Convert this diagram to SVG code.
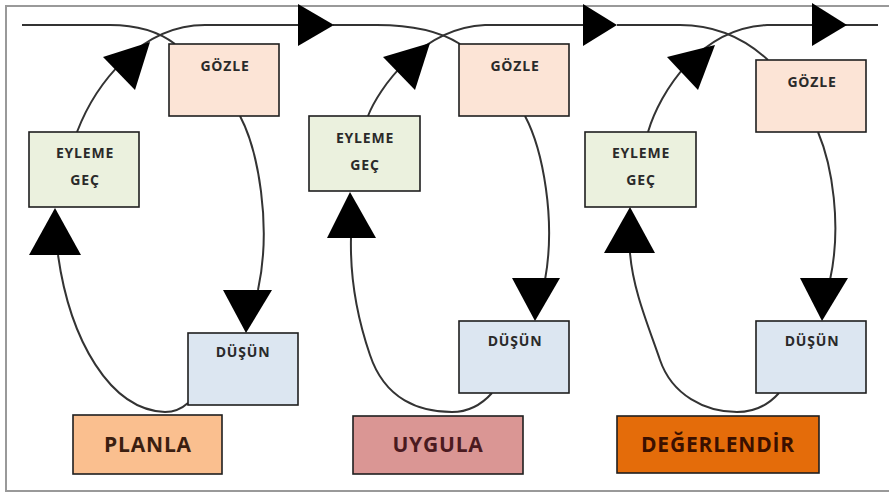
<svg xmlns="http://www.w3.org/2000/svg" width="889" height="494" viewBox="0 0 889 494">
<style>
.box{stroke:#1f1f1f;stroke-width:1.6}
.g{fill:#fce4d6}
.e{fill:#ebf1de}
.d{fill:#dce6f1}
.t{font-family:"Open Sans","Noto Sans",sans-serif;font-weight:bold;font-size:14px;letter-spacing:0.8px;fill:#2a2a2a;text-anchor:middle}
.big{font-family:"Open Sans","Noto Sans",sans-serif;font-weight:bold;font-size:21px;letter-spacing:0.8px;text-anchor:middle}
.c{fill:none;stroke:#333;stroke-width:2}
.ah{fill:#000}
</style>
<rect x="0" y="0" width="889" height="494" fill="#fff"/>
<rect x="6" y="6" width="900" height="485" fill="none" stroke="#999" stroke-width="2"/>

<g id="connectors">
  <path class="c" d="M22,25 L110,25 Q150,25 175,44"/>
  <path class="c" d="M77,132 C95,85 140,25 205,25 L298,25"/>
  <path class="c" d="M240,116 C258,150 272,225 258,290"/>
  <path class="c" d="M188,403 Q178,412 165,412 C110,410 70,340 58,255"/>

  <path class="c" d="M333,25 L377,25 Q430,25 460,44"/>
  <path class="c" d="M368,116 C378,90 420,28 485,25 L583,25"/>
  <path class="c" d="M525,116 C543,150 556,220 545,280"/>
  <path class="c" d="M492,393 Q475,412 452,412 C420,412 385,400 370,355 C358,320 350,280 351,238"/>

  <path class="c" d="M617,25 L680,25 Q730,25 768,60"/>
  <path class="c" d="M648,132 C660,92 700,28 767,25 L878,25"/>
  <path class="c" d="M818,132 C832,165 842,225 830,280"/>
  <path class="c" d="M779,393 Q762,412 737,412 C705,412 672,395 660,360 C648,325 633,290 630,253"/>

  <polygon class="ah" points="298,4 298,46 334,25"/>
  <polygon class="ah" points="583,4 583,46 617,25"/>
  <polygon class="ah" points="812,3 812,46 847,25"/>

  <polygon class="ah" points="103,57 150,42 135,90"/>
  <polygon class="ah" points="223,290 272,290 246,333"/>
  <polygon class="ah" points="29,255 81,255 55,208"/>

  <polygon class="ah" points="383,57 430,43 415,90"/>
  <polygon class="ah" points="512,278 560,278 535,321"/>
  <polygon class="ah" points="327,238 376,238 350,192"/>

  <polygon class="ah" points="667,57 715,45 698,90"/>
  <polygon class="ah" points="800,278 848,278 822,321"/>
  <polygon class="ah" points="604,253 655,253 630,207"/>
</g>

<g id="gozle1"><rect class="box g" x="169" y="44" width="110" height="72"/><text class="t" x="225" y="71">GÖZLE</text></g>
<g id="eyleme1"><rect class="box e" x="29" y="132" width="110" height="75"/><text class="t" x="85" y="158">EYLEME</text><text class="t" x="85" y="185">GEÇ</text></g>
<g id="dusun1"><rect class="box d" x="188" y="333" width="110" height="72"/><text class="t" x="243" y="357">DÜŞÜN</text></g>
<g id="planla"><rect class="box" x="73" y="415" width="149" height="59" fill="#fabf8f"/><text class="big" x="148" y="452" fill="#3b1e10">PLANLA</text></g>

<g id="gozle2"><rect class="box g" x="459" y="44" width="110" height="72"/><text class="t" x="515" y="71">GÖZLE</text></g>
<g id="eyleme2"><rect class="box e" x="309" y="116" width="111" height="75"/><text class="t" x="365" y="143">EYLEME</text><text class="t" x="365" y="170">GEÇ</text></g>
<g id="dusun2"><rect class="box d" x="459" y="321" width="110" height="72"/><text class="t" x="515" y="346">DÜŞÜN</text></g>
<g id="uygula"><rect class="box" x="353" y="416" width="170" height="58" fill="#da9694"/><text class="big" x="438" y="452" fill="#4a1a20">UYGULA</text></g>

<g id="gozle3"><rect class="box g" x="756" y="60" width="110" height="72"/><text class="t" x="812" y="87">GÖZLE</text></g>
<g id="eyleme3"><rect class="box e" x="585" y="132" width="111" height="75"/><text class="t" x="641" y="158">EYLEME</text><text class="t" x="641" y="185">GEÇ</text></g>
<g id="dusun3"><rect class="box d" x="756" y="321" width="110" height="72"/><text class="t" x="812" y="346">DÜŞÜN</text></g>
<g id="degerlendir"><rect class="box" x="617" y="416" width="202" height="57" fill="#e46c0a"/><text class="big" x="718" y="452" fill="#3a1000">DEĞERLENDİR</text></g>
</svg>
